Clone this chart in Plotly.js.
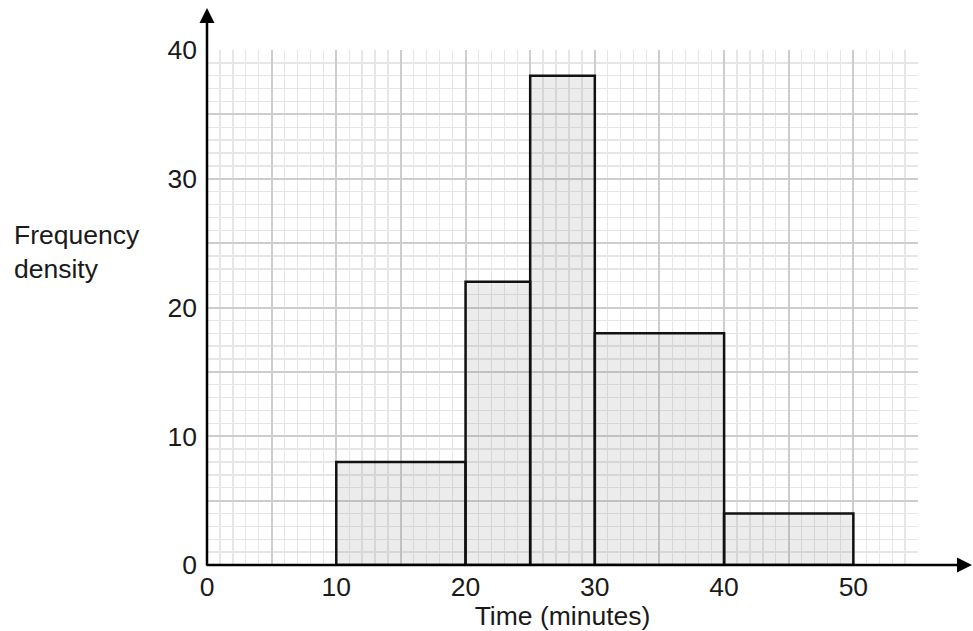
<!DOCTYPE html>
<html>
<head>
<meta charset="utf-8">
<script src="https://cdn.plot.ly/plotly-3.0.1.min.js"></script>
<style>html,body{margin:0;padding:0;background:#fff;}#chart{width:973px;height:631px;}</style>
</head>
<body>
<div id="chart"></div>
<script>
// Data
var binStart = [10, 20, 25, 30, 40];
var binEnd = [20, 25, 30, 40, 50];
var freqDensity = [8, 22, 38, 18, 4];

// Axis ticks
var xTickVals = [0, 5, 10, 15, 20, 25, 30, 35, 40, 45, 50, 55];
var xTickText = ['0', '', '10', '', '20', '', '30', '', '40', '', '50', ''];
var yTickVals = [0, 5, 10, 15, 20, 25, 30, 35, 40];
var yTickText = ['0', '', '10', '', '20', '', '30', '', '40'];

var widths = binEnd.map(function (e, i) { return e - binStart[i]; });

var FONT = 'Liberation Sans, Arial, sans-serif';
var FS = 26.5;
var TXT = '#1a1a1a';

var trace = {
  type: 'bar',
  x: binStart,
  y: freqDensity,
  width: widths,
  offset: 0,
  marker: {
    color: 'rgba(128,128,128,0.15)',
    line: { color: '#111', width: 2.5 }
  },
  hoverinfo: 'skip',
  showlegend: false
};

var gridMajor = '#cdcdcd';
var gridMinor = '#e6e6e6';

var layout = {
  width: 973,
  height: 631,
  margin: { l: 207, r: 55, t: 50, b: 66 },
  paper_bgcolor: '#ffffff',
  plot_bgcolor: '#ffffff',
  bargap: 0,
  font: { family: FONT, size: FS, color: TXT },
  xaxis: {
    range: [0, 55],
    tickmode: 'array',
    tickvals: xTickVals,
    ticktext: xTickText,
    showgrid: true,
    gridcolor: gridMajor,
    gridwidth: 2,
    zeroline: false,
    showline: false,
    ticks: '',
    ticklabelstandoff: 3,
    tickfont: { family: FONT, size: FS, color: TXT },
    minor: { dtick: 1, tick0: 0, showgrid: true, gridcolor: gridMinor, gridwidth: 1.3 },
    title: { text: 'Time (minutes)', font: { family: FONT, size: FS, color: TXT }, standoff: 0 },
    fixedrange: true
  },
  yaxis: {
    range: [0, 40],
    tickmode: 'array',
    tickvals: yTickVals,
    ticktext: yTickText,
    showgrid: true,
    gridcolor: gridMajor,
    gridwidth: 2,
    zeroline: false,
    showline: false,
    ticks: '',
    ticklabelstandoff: 9,
    tickfont: { family: FONT, size: FS, color: TXT },
    minor: { dtick: 1, tick0: 0, showgrid: true, gridcolor: gridMinor, gridwidth: 1.3 },
    fixedrange: true
  },
  annotations: [
    {
      xref: 'paper', yref: 'paper',
      x: 1.076, y: 0,
      ax: -767, ay: 0,
      axref: 'pixel', ayref: 'pixel',
      text: '',
      showarrow: true,
      arrowhead: 2, arrowsize: 1.2, arrowwidth: 2.5, arrowcolor: '#000'
    },
    {
      xref: 'paper', yref: 'paper',
      x: 0, y: 1.0816,
      ax: 0, ay: 559,
      axref: 'pixel', ayref: 'pixel',
      text: '',
      showarrow: true,
      arrowhead: 2, arrowsize: 1.2, arrowwidth: 2.5, arrowcolor: '#000'
    },
    {
      xref: 'paper', yref: 'paper',
      x: -0.2743, y: 0.608,
      xanchor: 'left', yanchor: 'middle',
      align: 'left',
      showarrow: false,
      text: 'Frequency<br>density',
      font: { family: FONT, size: FS, color: TXT }
    }
  ]
};

Plotly.newPlot('chart', [trace], layout, { staticPlot: true, displayModeBar: false });
</script>
</body>
</html>
